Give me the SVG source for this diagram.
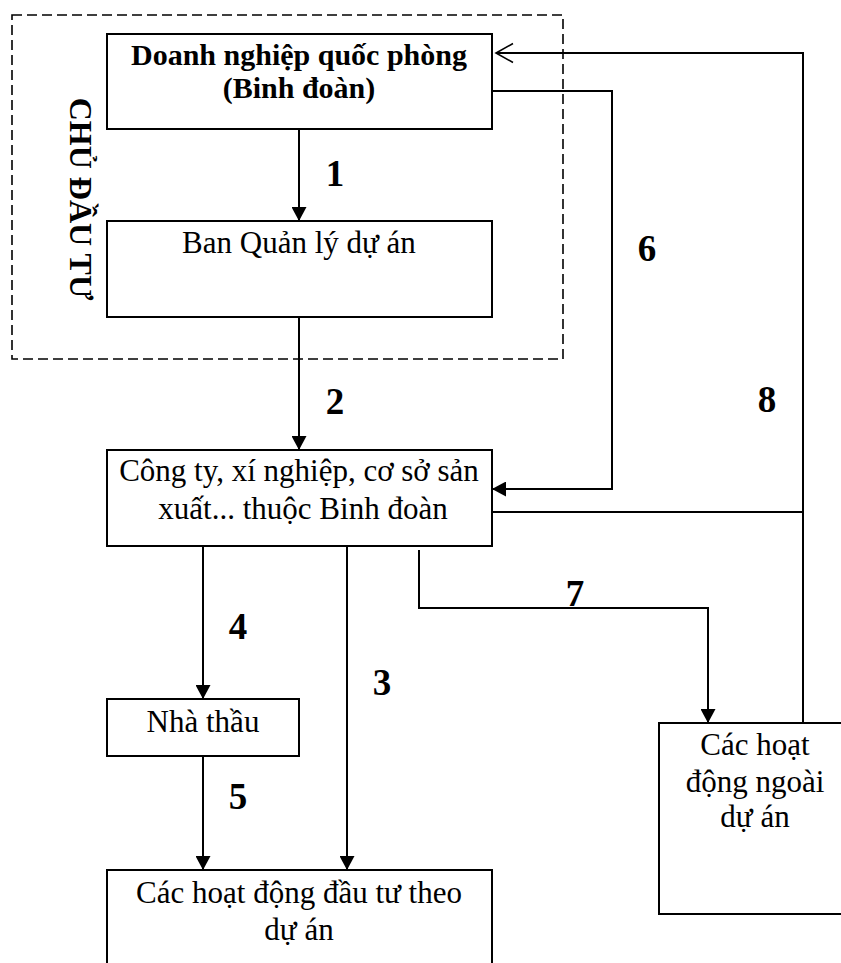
<svg xmlns="http://www.w3.org/2000/svg" width="841" height="963" viewBox="0 0 841 963">
<style>
.box{fill:#fff;stroke:#000;stroke-width:2}
.t{font-family:"Liberation Serif","Times New Roman",serif;font-size:31px;fill:#000;text-anchor:middle}
.b{font-family:"Liberation Serif","Times New Roman",serif;font-weight:bold;fill:#000;text-anchor:middle}
.c{fill:none;stroke:#000;stroke-width:2}
.num{font-family:"Liberation Serif","Times New Roman",serif;font-weight:bold;font-size:37px;fill:#000;text-anchor:middle}
</style>
<defs>
<marker id="ah" viewBox="0 0 14 15" refX="14" refY="7.5" markerWidth="14" markerHeight="15" markerUnits="userSpaceOnUse" orient="auto"><path d="M0,0 L14,7.5 L0,15 z" fill="#000"/></marker>
<marker id="oa" viewBox="-2 -2 21 23" refX="17" refY="9.5" markerWidth="21" markerHeight="23" markerUnits="userSpaceOnUse" orient="auto"><path d="M0,0 L17,9.5 L0,19" fill="none" stroke="#000" stroke-width="1.6"/></marker>
</defs>
<rect width="841" height="963" fill="#fff"/>
<g id="chu-dau-tu">
<rect x="12" y="15" width="551" height="344" fill="none" stroke="#000" stroke-width="1.6" stroke-dasharray="10 5"/>
<text class="b" font-size="32" transform="translate(70,199) rotate(90)">CHỦ ĐẦU TƯ</text>
</g>
<g id="doanh-nghiep">
<rect class="box" x="107" y="34" width="385" height="95"/>
<text class="b" font-size="30" x="299" y="65">Doanh nghiệp quốc phòng</text>
<text class="b" font-size="30" x="299" y="98">(Binh đoàn)</text>
</g>
<g id="ban-quan-ly">
<rect class="box" x="107" y="221" width="385" height="96"/>
<text class="t" x="299" y="253">Ban Quản lý dự án</text>
</g>
<g id="cong-ty">
<rect class="box" x="107" y="450" width="385" height="96"/>
<text class="t" x="299" y="481">Công ty, xí nghiệp, cơ sở sản</text>
<text class="t" x="303" y="519">xuất... thuộc Binh đoàn</text>
</g>
<g id="nha-thau">
<rect class="box" x="107" y="699" width="192" height="57"/>
<text class="t" x="203" y="732">Nhà thầu</text>
</g>
<g id="hoat-dong-dau-tu">
<rect class="box" x="107" y="870" width="385" height="110"/>
<text class="t" x="299" y="903">Các hoạt động đầu tư theo</text>
<text class="t" x="299" y="940">dự án</text>
</g>
<g id="hoat-dong-ngoai">
<rect class="box" x="659" y="723" width="200" height="191"/>
<text class="t" x="755" y="755">Các hoạt</text>
<text class="t" x="755" y="792">động ngoài</text>
<text class="t" x="755" y="827">dự án</text>
</g>
<g id="connectors">
<path class="c" d="M299,129 L299,221" marker-end="url(#ah)"/>
<path class="c" d="M299,317 L299,450" marker-end="url(#ah)"/>
<path class="c" d="M347,546 L347,870" marker-end="url(#ah)"/>
<path class="c" d="M203,546 L203,699" marker-end="url(#ah)"/>
<path class="c" d="M203,756 L203,870" marker-end="url(#ah)"/>
<path class="c" d="M492,91 L612,91 L612,489 L492,489" marker-end="url(#ah)"/>
<path class="c" d="M419,550 L419,608 L708,608 L708,723" marker-end="url(#ah)"/>
<path class="c" stroke-width="1.6" d="M803,723 L803,53 L496,53" marker-end="url(#oa)"/>
<path class="c" stroke-width="1.6" d="M492,512 L803,512"/>
<text class="num" x="335" y="186">1</text>
<text class="num" x="335" y="414">2</text>
<text class="num" x="382" y="695">3</text>
<text class="num" x="238" y="639">4</text>
<text class="num" x="238" y="809">5</text>
<text class="num" x="647" y="261">6</text>
<text class="num" x="575" y="606">7</text>
<text class="num" x="767" y="412">8</text>
</g>
</svg>
